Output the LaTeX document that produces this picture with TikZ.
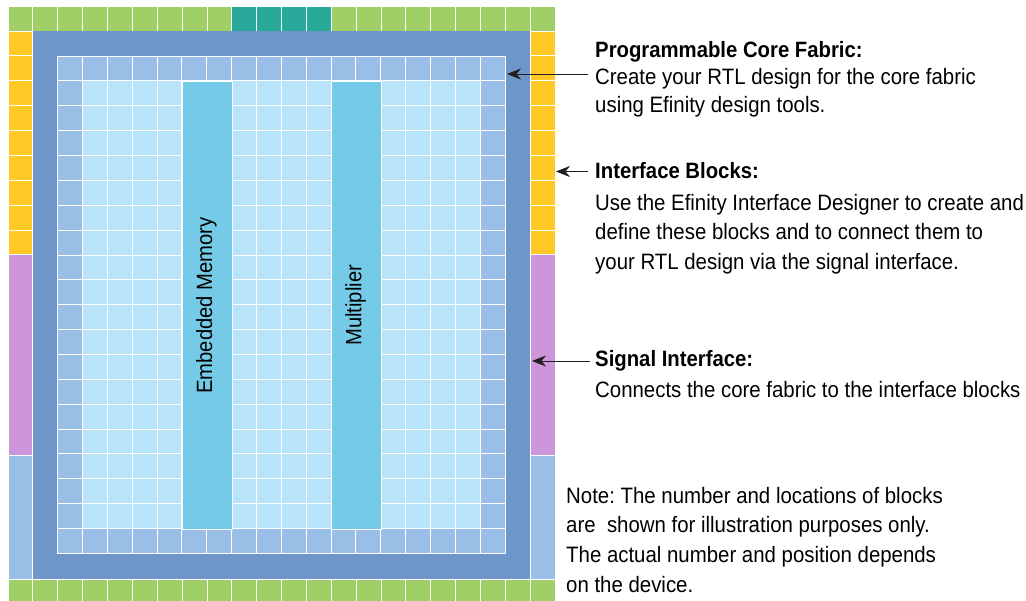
\documentclass[tikz,border=0pt]{standalone}
\usepackage{fontspec}
\setmainfont[FakeStretch=0.915]{Liberation Sans}
\usetikzlibrary{arrows.meta}
\definecolor{cgreen}{HTML}{A0CE67}
\definecolor{cteal}{HTML}{29A99A}
\definecolor{cyellow}{HTML}{FFC826}
\definecolor{cpurple}{HTML}{CE96DA}
\definecolor{cpale}{HTML}{9ABFE6}
\definecolor{cframe}{HTML}{6E96C9}
\definecolor{clight}{HTML}{B9E3F9}
\definecolor{cblock}{HTML}{75CBE7}
\definecolor{cink}{HTML}{231F20}
\tikzset{
  x=1pt,y=-1pt,
  cell/.style={draw=white,line width=0.9pt},
  lead/.style={draw=cink,line width=0.8pt,-{Stealth[length=14pt,width=11pt]}},
  head/.style={anchor=base west,font=\fontsize{22.2}{24}\selectfont\bfseries\frenchspacing,text=black,inner sep=0pt},
  body/.style={anchor=base west,font=\fontsize{22.3}{24}\selectfont\frenchspacing,text=black,inner sep=0pt},
  vert/.style={rotate=90,font=\fontsize{22.1}{24}\selectfont,text=black,inner sep=0pt},
}
\newcommand{\px}{24.87}
\begin{document}
\begin{tikzpicture}
\useasboundingbox (0,0) rectangle (1026,601);
% top and bottom edge rows
\foreach \i in {0,...,21}{
  \pgfmathsetmacro{\xa}{8+\i*\px}
  \pgfmathsetmacro{\xb}{\xa+\px}
  \ifnum\i>8 \ifnum\i<13
    \fill[cteal,cell] (\xa,6) rectangle (\xb,31);
  \else
    \fill[cgreen,cell] (\xa,6) rectangle (\xb,31);
  \fi\else
    \fill[cgreen,cell] (\xa,6) rectangle (\xb,31);
  \fi
  \fill[cgreen,cell] (\xa,579) rectangle (\xb,602);
}
% side columns
\foreach \xa in {8,530.4}{
  \pgfmathsetmacro{\xb}{\xa+\px}
  \foreach \j in {0,...,8}{
    \pgfmathsetmacro{\ya}{31+\j*\px}
    \pgfmathsetmacro{\yb}{\ya+\px}
    \fill[cyellow,cell] (\xa,\ya) rectangle (\xb,\yb);
  }
  \fill[cpurple,cell] (\xa,254.8) rectangle (\xb,455.8);
  \fill[cpale,cell] (\xa,455.8) rectangle (\xb,579);
}
% frame
\fill[cframe] (33,31) rectangle (530,579);
% core cells
\foreach \i in {0,...,17}{
  \foreach \j in {0,...,19}{
    \pgfmathsetmacro{\xa}{57.5+\i*\px}
    \pgfmathsetmacro{\ya}{56+\j*\px}
    \pgfmathsetmacro{\xb}{\xa+\px}
    \pgfmathsetmacro{\yb}{\ya+\px}
    \pgfmathparse{(\i==0||\i==17||\j==0||\j==19)?1:0}
    \ifnum\pgfmathresult=1
      \fill[cpale,cell] (\xa,\ya) rectangle (\xb,\yb);
    \else
      \fill[clight,cell] (\xa,\ya) rectangle (\xb,\yb);
    \fi
  }
}
% blocks
\node[fill=cblock,draw=white,line width=0.9pt,minimum width=49.7pt,minimum height=448pt,inner sep=0pt,anchor=north west] (mem) at (182,80.9) {};
\node[fill=cblock,draw=white,line width=0.9pt,minimum width=49.7pt,minimum height=448pt,inner sep=0pt,anchor=north west] (mul) at (331.3,80.9) {};
\node[vert] (memlab) at ([xshift=-1pt]mem.center) {Embedded Memory};
\node[vert] (mullab) at ([xshift=-1pt]mul.center) {Multiplier};
% annotations
\node[head] (t1) at (595,58) {Programmable Core Fabric:};
\node[body] (t1a) at (595,85) {Create your RTL design for the core fabric};
\node[body] (t1b) at (595,112.5) {using Efinity design tools.};
\node[head] (t2) at (595,179) {Interface Blocks:};
\node[body] (t2a) at (595,211) {Use the Efinity Interface Designer to create and};
\node[body] (t2b) at (595,240) {define these blocks and to connect them to};
\node[body] (t2c) at (595,269.5) {your RTL design via the signal interface.};
\node[head] (t3) at (595,367) {Signal Interface:};
\node[body] (t3a) at (595,397.5) {Connects the core fabric to the interface blocks};
\node[body] (n1) at (566,503.5) {Note: The number and locations of blocks};
\node[body] (n2) at (566,532.5) {are\ \ shown for illustration purposes only.};
\node[body] (n3) at (566,562.5) {The actual number and position depends};
\node[body] (n4) at (566,592.5) {on the device.};
% leaders
\coordinate (a1) at (588,74); \coordinate (b1) at (507,74);
\coordinate (a2) at (588,171.5); \coordinate (b2) at (556,171.5);
\coordinate (a3) at (590,361); \coordinate (b3) at (532,361);
\draw[lead] (a1) -- (b1);
\draw[lead] (a2) -- (b2);
\draw[lead] (a3) -- (b3);
\end{tikzpicture}
\end{document}
